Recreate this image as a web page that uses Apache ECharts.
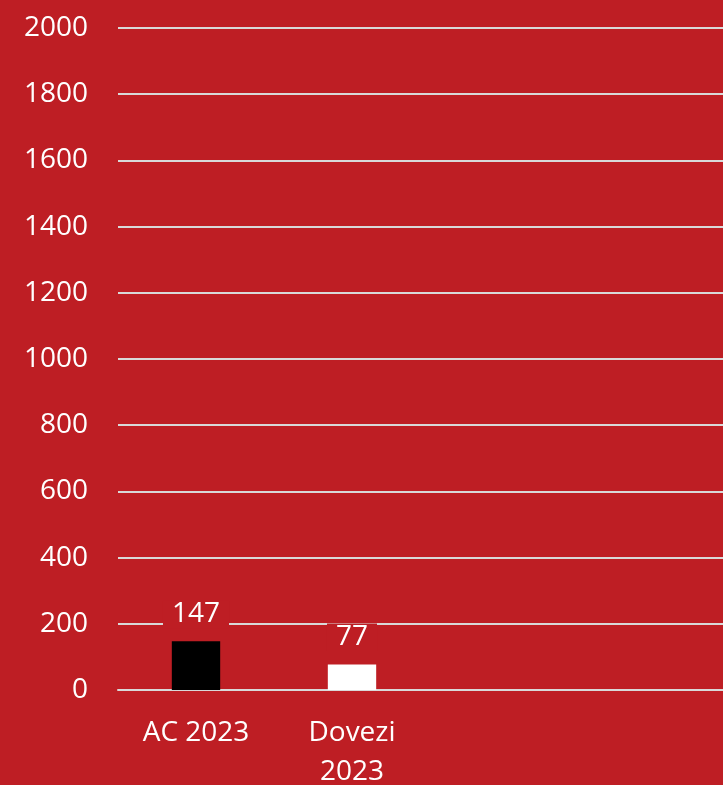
<!DOCTYPE html>
<html><head><meta charset="utf-8">
<style>html,body{margin:0;padding:0;background:#BE1E24;}#c{width:723px;height:785px;}</style>
<script src="https://cdn.jsdelivr.net/npm/echarts@6/dist/echarts.min.js"></script>
</head><body><div id="c"></div>
<script>
const categories = ['AC 2023', 'Dovezi\n2023', '', ''];
const values = [147, 77, null, null];
const barColors = ['#000000', '#FFFFFF'];
const yTicks = { min: 0, max: 2000, interval: 200 };

const chart = echarts.init(document.getElementById('c'));
chart.setOption({
  backgroundColor: '#BE1E24',
  animation: false,
  grid: { left: 118, width: 624, top: 28, bottom: 95, containLabel: false, outerBoundsMode: 'none' },
  xAxis: {
    type: 'category', data: categories,
    axisLine: { show: true, lineStyle: { color: '#D9D9D9', width: 2 } },
    axisTick: { show: false },
    axisLabel: { color: '#FFFFFF', fontSize: 28, fontFamily: 'Open Sans', margin: 24, lineHeight: 39, interval: 0 }
  },
  yAxis: {
    type: 'value', min: yTicks.min, max: yTicks.max, interval: yTicks.interval,
    axisLine: { show: false }, axisTick: { show: false },
    splitLine: { lineStyle: { color: '#D9D9D9', width: 2 } },
    axisLabel: { color: '#FFFFFF', fontSize: 28, fontFamily: 'Open Sans', margin: 30, formatter: v => String(v) }
  },
  series: [{
    type: 'bar', barWidth: '31%',
    data: values.map((v, i) => ({ value: v, itemStyle: { color: barColors[i] || '#000' } })),
    label: {
      show: true, position: 'top', distance: 13, color: '#FFFFFF', fontSize: 28, fontFamily: 'Open Sans',
      backgroundColor: '#BE1E24', padding: [0, 9]
    }
  }]
});
</script></body></html>
